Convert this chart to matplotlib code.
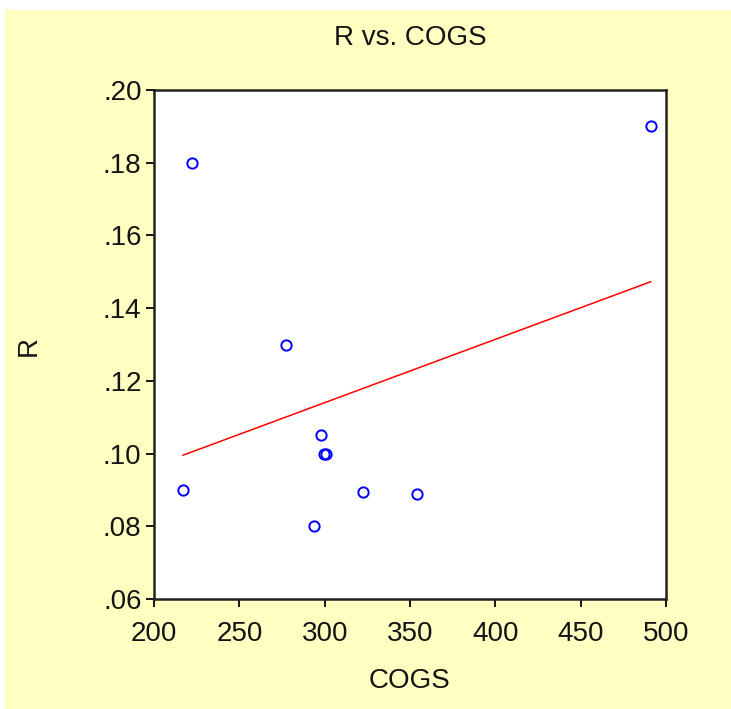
import matplotlib
matplotlib.use("Agg")
import matplotlib.pyplot as plt
from matplotlib.patches import Rectangle
from matplotlib.ticker import FuncFormatter
import numpy as np

cogs = [491.0, 222.1, 277.1, 297.9, 299.7, 300.9, 217.0, 322.7, 354.0, 293.9]
r = [0.190, 0.180, 0.130, 0.105, 0.100, 0.100, 0.090, 0.0894, 0.0889, 0.080]
x_ticks = [200, 250, 300, 350, 400, 450, 500]
y_ticks = [0.06, 0.08, 0.10, 0.12, 0.14, 0.16, 0.18, 0.20]

plt.rcParams['font.family'] = ['Liberation Sans', 'DejaVu Sans']

W, H = 731, 709
fig = plt.figure(figsize=(W/100, H/100), dpi=100, facecolor='white')
fig.patches.append(Rectangle((5/W, 0), 1, 699/H, transform=fig.transFigure,
                             facecolor='#FFFFC1', edgecolor='none', zorder=-10))

L, R, T, B = 154, 666, 90, 599
ax = fig.add_axes([L/W, 1-B/H, (R-L)/W, (B-T)/H])
ax.set_zorder(5)
ax.set_facecolor('white')

x = np.array(cogs)
y = np.array(r)
b, a = np.polyfit(x, y, 1)
xl = np.array([x.min(), x.max()])
ax.plot(xl, a + b*xl, color='red', lw=1.1, zorder=2)
ax.plot(x, y, linestyle='none', marker='o', markersize=7.4, markerfacecolor='none',
        markeredgecolor='#0000FF', markeredgewidth=1.4, zorder=3)

ax.set_xlim(200, 500)
ax.set_ylim(0.06, 0.20)
ax.set_xticks(x_ticks)
ax.set_yticks(y_ticks)
ax.yaxis.set_major_formatter(FuncFormatter(lambda v, p: ('%.2f' % v).lstrip('0')))
ax.tick_params(direction='out', length=6, width=1.4, labelsize=20, colors='#141414')
ax.tick_params(axis='y', pad=3)
ax.tick_params(axis='x', pad=10)
for s in ax.spines.values():
    s.set_linewidth(1.8)
    s.set_color('#222222')

txt = dict(fontsize=20, color='#141414', ha='center', va='center')
fig.text((L+R)/2/W, 1-38/H, 'R vs. COGS', **txt)
fig.text((L+R)/2/W, 1-681/H, 'COGS', **txt)
fig.text(29/W, 1-346/H, 'R', rotation=90, **txt)

fig.savefig('out.png', dpi=100, facecolor=fig.get_facecolor())
